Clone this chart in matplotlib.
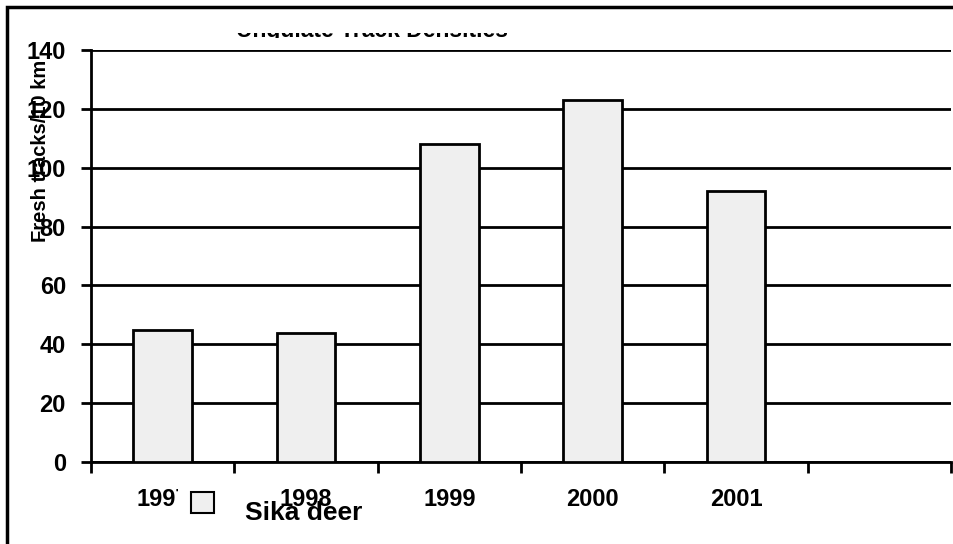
import numpy as np
import matplotlib
matplotlib.use("Agg")
import matplotlib.pyplot as plt
from matplotlib.patches import Rectangle
from matplotlib.transforms import Bbox

plt.rcParams['font.family'] = ['Liberation Sans', 'DejaVu Sans']

years = ['1997', '1998', '1999', '2000', '2001', '']
sika_deer = [45, 44, 108, 123, 92]
yticks = [0, 20, 40, 60, 80, 100, 120, 140]

W, H = 954, 544
fig = plt.figure(figsize=(W / 100, H / 100), dpi=100)
ax = fig.add_axes([91 / W, 1 - 462 / H, 860 / W, 412 / H])

x = np.arange(len(sika_deer))
bars = ax.bar(x, sika_deer, width=0.41, facecolor='#efefef', edgecolor='black',
              linewidth=2, zorder=3, label='Sika deer')

ax.set_xlim(-0.5, len(years) - 0.5)
ax.set_ylim(0, 140)
ax.set_yticks(yticks)
ax.set_yticklabels([str(v) for v in yticks], fontsize=17, fontweight='bold')
ax.yaxis.grid(True, color='black', linewidth=2)
ax.set_axisbelow(True)

# category boundaries get the ticks, labels sit in the middle
ax.set_xticks(np.arange(len(years) + 1) - 0.5)
ax.set_xticklabels([])
ax.set_xticks(np.arange(len(years)), minor=True)
ax.set_xticklabels(years, minor=True, fontsize=17, fontweight='bold')
ax.tick_params(axis='x', which='minor', length=0, pad=19)
ax.tick_params(axis='x', which='major', length=8, width=2, direction='out')
ax.tick_params(axis='y', length=7, width=2, pad=11)

for s in ['top', 'right']:
    ax.spines[s].set_visible(False)
for s in ['left', 'bottom']:
    ax.spines[s].set_linewidth(2)

ax.text(-0.059, 0.755, 'Fresh tracks/10 km', transform=ax.transAxes, rotation=90,
        ha='center', va='center', fontsize=14.5, fontweight='bold')

# white patch hiding the end of the first year label, as in the original
ax.add_patch(Rectangle((178 / W, 1 - 514 / H), 36 / W, 28 / H,
                       transform=fig.transFigure, facecolor='white',
                       edgecolor='none', zorder=4, clip_on=False))

leg = ax.legend(loc='upper left', bbox_to_anchor=(186 / W, 1 - 487 / H),
                bbox_transform=fig.transFigure, frameon=False,
                prop={'size': 19, 'weight': 'bold'}, handlelength=0.85,
                handleheight=0.85, handletextpad=1.2, borderpad=0.2,
                borderaxespad=0)
leg.set_zorder(5)
leg.legend_handles[0].set_linewidth(1.5)
leg.get_texts()[0].set_y(-8)

# title: only a thin strip of it shows in the original
title = fig.text(372 / W, 1 - 37 / H, 'Ungulate Track Densities',
                 ha='center', va='baseline', fontsize=16.5, fontweight='bold')
title.set_clip_box(Bbox([[0, H - 37.5], [W, H - 33]]))
title.set_clip_on(True)

fig.add_artist(Rectangle((7 / W, -0.1), 1.2, 1.1 - 7 / H, transform=fig.transFigure,
                         facecolor='none', edgecolor='black', linewidth=2.5, zorder=3))

fig.savefig('out.png', dpi=100)
